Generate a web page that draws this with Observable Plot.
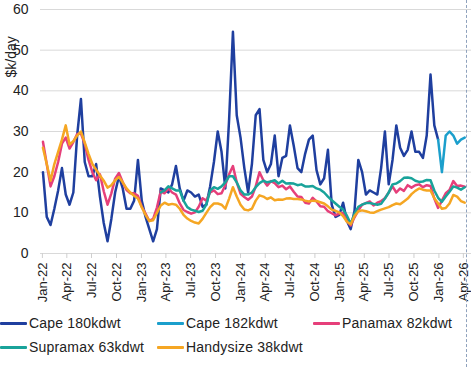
<!DOCTYPE html>
<html>
<head>
<meta charset="utf-8">
<script src="https://cdn.jsdelivr.net/npm/d3@7"></script>
<script src="https://cdn.jsdelivr.net/npm/@observablehq/plot@0.6"></script>
<style>
  html, body { margin: 0; padding: 0; background: #fff; }
  #wrap { position: relative; width: 471px; height: 367px; overflow: hidden; font-family: "Liberation Sans", Arial, sans-serif; }
  #chart svg { display: block; }
  .leg { position: absolute; display: flex; align-items: center; font-size: 14px; color: #222; white-space: nowrap; height: 18px; letter-spacing: 0.2px; }
  .sw { width: 27px; height: 3px; margin-right: 2px; border-radius: 1px; }
  #dash { position: absolute; left: 466px; top: 0; width: 0; height: 367px; border-left: 1px dashed #8fa2bd; }
</style>
</head>
<body>
<div id="wrap">
  <div id="chart"></div>
  <div id="legend"></div>
  <div id="dash"></div>
</div>
<script>
// Fortnightly observations starting on this date
const startDate = "2022-01-03";
const stepDays = 14;

// Series names, colours, and first observation index
const seriesNames = ["Cape 180kdwt", "Cape 182kdwt", "Panamax 82kdwt", "Supramax 63kdwt", "Handysize 38kdwt"];
const seriesColors = ["#1f3f9f", "#1b9fcc", "#e63f7a", "#19a39a", "#f5a623"];
const seriesFrom = [0, 104, 0, 31, 0];

// Values in $k/day
const cape180 = [20,9,7,11,15.5,21,14.5,12,15,29, 38,22.5,19,19,22,14,7.5,3,8.5,15,
  19,16,11,11,13,23,13,9,6,3, 6,16,15.5,15,17,21.5,16,13,15.5,15,
  14,14.5,11.5,12,16.5,22.5,30,25,16,33, 54.5,34,28.5,21,15,22,34,35.5,23,20,
  22,29,19,23.5,24,31.5,26.5,21,20,24.5, 28,29,20.5,17,18.5,25.5,12,9,9.5,12.5,
  8,6,10.5,23,20,14.5,15.5,15,14.5,21, 30,17,23,31.5,26,24,25.5,30,25,25,
  23.5,29,44,31.5,28];
const cape182 = [28,20,29,30,29,27,28,28.5];
const panamax = [27.5,22,16.5,19,22.5,27,28.5,25.8,27.4,29.4,
  29.5,27,23,20,18,19.5,15.3,12,14.8,18.4,
  19.8,17.5,15.6,14.8,14.8,14.2,11.5,9.8,8,8.5,
  11.3,15.3,14.8,16,15,14.5,12.3,10.7,10.2,9.8,
  10.1,11.5,13.6,13,15,15.5,14.6,14.8,16.8,19.5,
  21.5,17.5,14.7,13.9,13.2,14,16.5,20,18,16.7,
  17.8,17.3,16.3,16.7,15.8,16.5,15.2,14,13.9,12.5,
  12.3,13.7,12.8,11.6,11.5,10.4,9.9,9.4,9.8,10,
  8,6.9,8.9,10.6,12,12.4,12.8,11.8,12.5,12.9,
  13.6,15,16.5,15,16,15.4,16.8,16.2,16.8,17,
  16.3,16.8,16.6,13.5,11.2,13,14.8,15.6,17.8,16.6,16.7,16.4];
const supramax = [15,15.5,16.5,16,15.5,15.5,13,11.4,10.8,
  10.5,10.2,10.5,12,15.5,16.3,15.9,16.5,17.5,19,
  19,17.5,15.5,14.5,14.5,15,16.3,17.3,17.9,17.5,
  17.7,18,17.2,17.9,17.2,17.3,17.2,16.8,17,16.5,
  16.5,16.6,16,15.7,15,14,13.1,12.3,11.5,10.8,
  9.3,7.3,9.8,11.5,12,12.4,12.4,12.2,12,12.2,
  13.5,15,17,17.2,17.8,18.6,18.7,18.5,17.9,17.6,
  17.7,18.1,18,15.5,13.7,12.7,14,15.2,16.5,16.2,15.7,16.3];
const handysize = [26,22,17.9,22,25,28,31.5,26.8,27.6,29,
  30,27.3,24.5,22,20.6,19.2,17.9,16.2,16.8,18,
  18.8,17.5,16,15,14.2,13.5,11.4,9.5,8,8.2,
  10,11.8,12.5,12,12.2,12,11,9.5,8.6,8,
  7.6,7.4,8.5,10,11.4,12.3,12.3,12,11,13.5,
  16.3,14,12,10.8,10.6,11,13,14.3,14,13.4,
  13.8,13.1,13.3,13.2,13.5,13.6,13.4,13.4,13.3,13,
  12.8,13,12.9,12.6,12.3,11.6,10.8,10.5,10.1,9.2,
  7.8,7.2,9.2,10.4,10.6,10.4,10.1,10,10.4,10.8,
  11.1,11.4,11.9,12.3,12.1,12.8,13.5,14.6,15.4,16,
  15.7,15.5,15.5,13.6,12.3,11,11.2,12.3,14.4,14,12.9,12.5];

// Axis ticks
const yTicks = [0, 10, 20, 30, 40, 50, 60];
const xTickStart = "2022-01-01";
const xTickEnd = "2026-04-01";
const yLabel = "$k/day";

const seriesValues = [cape180, cape182, panamax, supramax, handysize];
const t0 = new Date(startDate + "T00:00:00Z");
const dateAt = (i) => d3.utcDay.offset(t0, i * stepDays);
const data = seriesNames.flatMap((name, s) =>
  seriesValues[s].map((v, k) => ({series: name, date: dateAt(seriesFrom[s] + k), value: v}))
);
const xTicks = d3.utcMonth.every(3).range(new Date(xTickStart + "T00:00:00Z"), d3.utcDay.offset(new Date(xTickEnd + "T00:00:00Z"), 1));
const fmt = d3.utcFormat("%b-%y");

const chart = Plot.plot({
  width: 471,
  height: 305,
  marginTop: 9,
  marginBottom: 52,
  marginLeft: 40,
  marginRight: 0,
  style: {fontFamily: "'Liberation Sans', Arial, sans-serif", background: "#fff", color: "#222", overflow: "visible"},
  x: {type: "utc", domain: [new Date("2021-12-25T00:00:00Z"), new Date("2026-05-01T00:00:00Z")]},
  y: {domain: [0, 60]},
  color: {domain: seriesNames, range: seriesColors},
  marks: [
    Plot.gridY(yTicks, {stroke: "#d9d9d9", strokeOpacity: 1, strokeWidth: 1}),
    Plot.axisY(yTicks, {tickSize: 0, tickPadding: 12, fontSize: 14, label: null, fill: "#222"}),
    Plot.axisX(xTicks, {tickFormat: fmt, tickRotate: -90, tickSize: 5, tickPadding: 4, fontSize: 13, label: null, stroke: "#cfcfcf", fill: "#222"}),
    Plot.text([yLabel], {frameAnchor: "top-left", dx: -34, dy: 68, rotate: -90, fontSize: 14, fill: "#222"}),
    Plot.line(data, {x: "date", y: "value", z: "series", stroke: "series", strokeWidth: 2.5, strokeLinejoin: "round", strokeLinecap: "round"})
  ]
});
document.getElementById("chart").appendChild(chart);

// Legend
const legendPos = [[0, 314], [157, 314], [313, 314], [0, 338], [157, 338]];
const legend = document.getElementById("legend");
seriesNames.forEach((name, i) => {
  const el = document.createElement("div");
  el.className = "leg";
  el.style.left = legendPos[i][0] + "px";
  el.style.top = legendPos[i][1] + "px";
  const sw = document.createElement("div");
  sw.className = "sw";
  sw.style.background = seriesColors[i];
  const tx = document.createElement("span");
  tx.textContent = name;
  el.appendChild(sw);
  el.appendChild(tx);
  legend.appendChild(el);
});
</script>
</body>
</html>
